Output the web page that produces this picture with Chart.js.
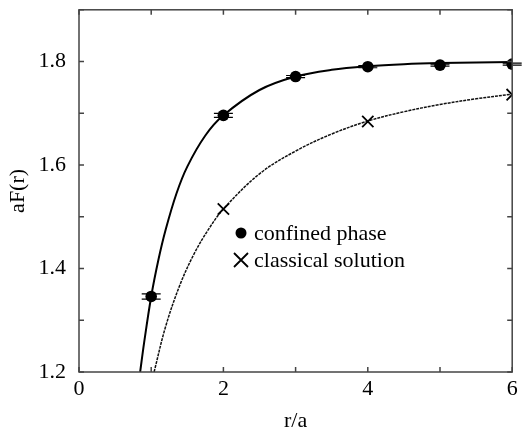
<!DOCTYPE html>
<html>
<head>
<meta charset="utf-8">
<script src="https://cdn.jsdelivr.net/npm/chart.js@4.4.0/dist/chart.umd.min.js"></script>
<style>
  html, body { margin: 0; padding: 0; background: #fff; }
  #wrap { width: 522px; height: 434px; }
  #probe { position: absolute; left: -1000px; font: 22px 'Liberation Serif'; }
</style>
</head>
<body>
<div id="wrap"><canvas id="chart" width="522" height="434"></canvas></div>
<div id="probe">aF(r) 1.8</div>
<script>
// measured points
const rPoints = [1, 2, 3, 4, 5, 6];
const confined = [1.346, 1.696, 1.771, 1.790, 1.793, 1.795];
const confinedErr = [0.005, 0.004, 0.002, 0.002, 0.002, 0.002];
const rClassical = [2, 4, 6];
const classical = [1.515, 1.684, 1.736];

// curves
const rFitConfined = [0.847, 0.9, 1.0, 1.1, 1.2, 1.35, 1.5, 1.75, 2.0, 2.5, 3.0, 3.5, 4.0, 4.5, 5.0, 6.0];
const fitConfined = [1.200, 1.255, 1.346, 1.417, 1.475, 1.545, 1.597, 1.657, 1.696, 1.745, 1.771, 1.784, 1.791, 1.795, 1.797, 1.799];
const rFitClassical = [1.04, 1.2, 1.4, 1.6, 1.8, 2.0, 2.5, 3.0, 3.5, 4.0, 4.5, 5.0, 5.5, 6.0];
const fitClassical = [1.200, 1.288, 1.369, 1.430, 1.477, 1.515, 1.583, 1.627, 1.660, 1.685, 1.703, 1.717, 1.728, 1.737];

const xTicks = [0, 1, 2, 3, 4, 5, 6];
const yTicks = [1.2, 1.3, 1.4, 1.5, 1.6, 1.7, 1.8, 1.9];

const serif = "'Liberation Serif', 'Times New Roman', Times, serif";
const toXY = (xs, ys) => xs.map((x, i) => ({ x: x, y: ys[i] }));

// box, inward ticks, error bars and the legend
const frame = {
  id: 'frame',
  beforeDatasetsDraw(chart) {
    const { ctx, scales: { x, y } } = chart;
    ctx.save();
    ctx.strokeStyle = '#000';
    ctx.lineWidth = 1.2;
    rPoints.forEach((r, i) => {
      const px = x.getPixelForValue(r);
      const y1 = y.getPixelForValue(confined[i] - confinedErr[i]);
      const y2 = y.getPixelForValue(confined[i] + confinedErr[i]);
      ctx.beginPath();
      ctx.moveTo(px, y1); ctx.lineTo(px, y2);
      ctx.moveTo(px - 9.5, y1); ctx.lineTo(px + 9.5, y1);
      ctx.moveTo(px - 9.5, y2); ctx.lineTo(px + 9.5, y2);
      ctx.stroke();
    });
    ctx.restore();
  },
  afterDraw(chart) {
    const { ctx, chartArea: a, scales: { x, y } } = chart;
    ctx.save();
    ctx.strokeStyle = '#444';
    ctx.lineWidth = 1.5;
    ctx.strokeRect(a.left, a.top, a.right - a.left, a.bottom - a.top);
    ctx.beginPath();
    const t = 5;
    xTicks.forEach(v => {
      const px = x.getPixelForValue(v);
      ctx.moveTo(px, a.bottom); ctx.lineTo(px, a.bottom - t);
      ctx.moveTo(px, a.top); ctx.lineTo(px, a.top + t);
    });
    yTicks.forEach(v => {
      const py = y.getPixelForValue(v);
      ctx.moveTo(a.left, py); ctx.lineTo(a.left + t, py);
      ctx.moveTo(a.right, py); ctx.lineTo(a.right - t, py);
    });
    ctx.stroke();

    // legend
    ctx.fillStyle = '#000';
    ctx.strokeStyle = '#000';
    ctx.beginPath();
    ctx.arc(241, 233, 5.5, 0, Math.PI * 2);
    ctx.fill();
    ctx.lineWidth = 1.8;
    ctx.beginPath();
    ctx.moveTo(234, 253); ctx.lineTo(248, 267);
    ctx.moveTo(248, 253); ctx.lineTo(234, 267);
    ctx.stroke();
    ctx.font = '22px ' + serif;
    ctx.textBaseline = 'alphabetic';
    ctx.fillText('confined phase', 254, 240);
    ctx.fillText('classical solution', 254, 267);
    ctx.restore();
  }
};

function draw() {
  new Chart(document.getElementById('chart'), {
    type: 'scatter',
    data: {
      datasets: [
        {
          label: 'confined phase',
          data: toXY(rPoints, confined),
          pointStyle: 'circle',
          pointRadius: 5.8,
          backgroundColor: '#000',
          borderColor: '#000',
          borderWidth: 0,
          order: 0
        },
        {
          label: 'classical solution',
          data: toXY(rClassical, classical),
          pointStyle: 'crossRot',
          pointRadius: 8,
          borderColor: '#000',
          borderWidth: 1.8,
          order: 0
        },
        {
          label: 'fit',
          type: 'line',
          data: toXY(rFitConfined, fitConfined),
          borderColor: '#000',
          borderWidth: 2,
          pointRadius: 0,
          tension: 0.35,
          fill: false,
          order: 1
        },
        {
          label: 'classical curve',
          type: 'line',
          data: toXY(rFitClassical, fitClassical),
          borderColor: '#111',
          borderWidth: 1.5,
          borderDash: [3, 1],
          pointRadius: 0,
          tension: 0.35,
          fill: false,
          order: 2
        }
      ]
    },
    options: {
      responsive: false,
      animation: false,
      layout: { padding: { top: 7, right: 4, left: 0, bottom: 0 } },
      plugins: { legend: { display: false }, tooltip: { enabled: false } },
      scales: {
        x: {
          type: 'linear',
          min: 0, max: 6,
          afterFit: s => { s.height = 62; s.paddingLeft = 0; s.paddingRight = 0; },
          grid: { display: false, drawTicks: false },
          border: { display: false },
          ticks: {
            stepSize: 1,
            padding: 4,
            color: '#000',
            font: { family: serif, size: 22 },
            callback: v => (v % 2 === 0 ? String(v) : '')
          },
          title: {
            display: true,
            text: 'r/a',
            color: '#000',
            font: { family: serif, size: 22 },
            padding: { top: 0, bottom: 0 }
          }
        },
        y: {
          min: 1.2, max: 1.9,
          afterFit: s => { s.width = 79; s.paddingTop = 0; s.paddingBottom = 0; },
          grid: { display: false, drawTicks: false },
          border: { display: false },
          ticks: {
            stepSize: 0.1,
            padding: 13,
            color: '#000',
            font: { family: serif, size: 22 },
            callback: v => (Math.round(v * 10) % 2 === 0 ? v.toFixed(1) : '')
          },
          title: {
            display: true,
            text: 'aF(r)',
            color: '#000',
            font: { family: serif, size: 22 },
            padding: { top: 5, bottom: 0 }
          }
        }
      }
    },
    plugins: [frame]
  });
}

if (document.fonts && document.fonts.load) {
  document.fonts.load("22px 'Liberation Serif'").then(draw, draw);
} else {
  draw();
}
</script>
</body>
</html>
